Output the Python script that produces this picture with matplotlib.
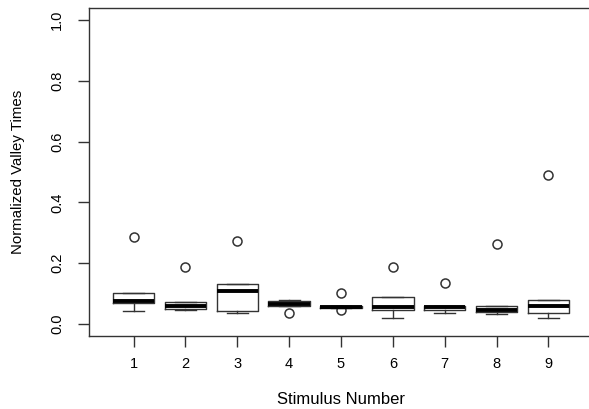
import matplotlib
matplotlib.use("Agg")
import matplotlib.pyplot as plt

plt.rcParams['font.family'] = ['Liberation Sans', 'DejaVu Sans']

stimuli = [1, 2, 3, 4, 5, 6, 7, 8, 9]
whislo = [0.043, 0.046, 0.037, 0.059, 0.052, 0.018, 0.035, 0.031, 0.018]
q1     = [0.070, 0.050, 0.043, 0.059, 0.052, 0.047, 0.045, 0.040, 0.035]
med    = [0.076, 0.060, 0.108, 0.066, 0.056, 0.055, 0.054, 0.045, 0.060]
q3     = [0.101, 0.073, 0.131, 0.074, 0.060, 0.089, 0.059, 0.059, 0.078]
whishi = [0.101, 0.073, 0.131, 0.080, 0.060, 0.089, 0.059, 0.059, 0.078]
fliers = [[0.285], [0.187], [0.274], [0.037], [0.100, 0.046], [0.187], [0.136], [0.263], [0.491]]

yticks = [0.0, 0.2, 0.4, 0.6, 0.8, 1.0]
ytick_labels = ["0.0", "0.2", "0.4", "0.6", "0.8", "1.0"]

stats = []
for i in range(len(stimuli)):
    stats.append(dict(whislo=whislo[i], q1=q1[i], med=med[i], q3=q3[i],
                      whishi=whishi[i], fliers=fliers[i]))

fig = plt.figure(figsize=(5.89, 4.09), dpi=100)
ax = fig.add_axes([89/589, (409-336)/409, (593-89)/589, (336-8)/409])

c = '#333333'
ax.bxp(stats, positions=stimuli, widths=0.8, patch_artist=False,
       boxprops=dict(color=c, linewidth=1.0),
       medianprops=dict(color='black', linewidth=2.8, solid_capstyle='butt'),
       whiskerprops=dict(color=c, linewidth=1.0),
       capprops=dict(color=c, linewidth=1.0),
       capwidths=0.4,
       flierprops=dict(marker='o', markerfacecolor='none', markeredgecolor=c,
                       markersize=6.5, markeredgewidth=1.1))

ax.set_xlim(0.14, 9.86)
ax.set_ylim(-0.04, 1.04)
ax.set_xticks(stimuli)
ax.set_xticklabels([str(s) for s in stimuli])
ax.set_yticks(yticks)
ax.set_yticklabels(ytick_labels, rotation=90, va='center')

ax.spines['right'].set_visible(False)
for s in ax.spines.values():
    s.set_color(c)
    s.set_linewidth(1.0)

ax.tick_params(axis='both', length=8, width=1.0, color=c, labelcolor='black')
ax.tick_params(axis='x', pad=7, labelsize=10.5)
ax.tick_params(axis='y', pad=10, labelsize=10.5)

ax.set_xlabel('Stimulus Number', fontsize=12, labelpad=15)
ax.set_ylabel('Normalized Valley Times', fontsize=10.8, labelpad=18)

fig.savefig('out.png', dpi=100)
